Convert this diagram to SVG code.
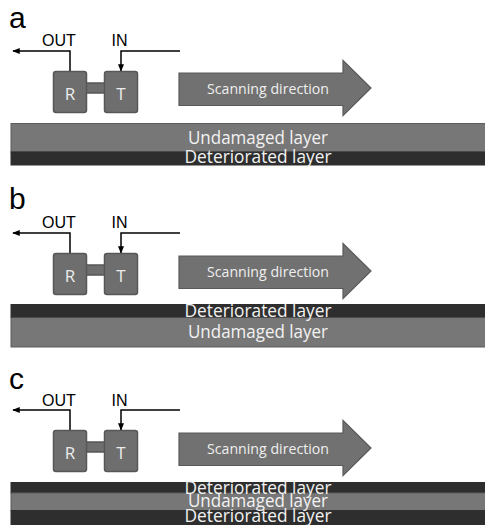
<svg xmlns="http://www.w3.org/2000/svg" width="485" height="525" viewBox="0 0 485 525">
<defs>
<style>
.lbl{font-family:"Liberation Sans",Arial,sans-serif;fill:#000}
.pl{font-size:30px}
.io{font-size:16px}
.box{fill:#6e6e6e;stroke:#575757;stroke-width:1.5}
.bt{font-family:"Open Sans","Noto Sans",sans-serif;font-size:17px;fill:#ececec;text-anchor:middle}
.arr{fill:#717171;stroke:#5a5a5a;stroke-width:1.2}
.at{font-family:"Open Sans","Noto Sans",sans-serif;font-size:15px;fill:#efefef;text-anchor:middle}
.und{fill:#777;stroke:#5c5c5c;stroke-width:1}
.det{fill:#2e2e2e;stroke:#2e2e2e;stroke-width:1}
.lt{font-family:"Open Sans","Noto Sans",sans-serif;font-size:18px;fill:#f2f2f2;text-anchor:middle}
.wire{fill:none;stroke:#000;stroke-width:1.5}
</style>
<marker id="ah" viewBox="0 0 10 10" refX="9" refY="5" markerWidth="5" markerHeight="5" orient="auto" markerUnits="strokeWidth">
<path d="M0,1 L10,5 L0,9 z" fill="#000"/>
</marker>
<g id="probe">
<rect class="box" x="86" y="83" width="19" height="10"/>
<rect class="box" x="53.5" y="71.5" width="33" height="41" rx="2.5"/>
<rect class="box" x="104.5" y="71.5" width="33" height="41" rx="2.5"/>
<text class="bt" x="70" y="99.5">R</text>
<text class="bt" x="121" y="99.5">T</text>
</g>
<g id="scan">
<polygon class="arr" points="179,73 343,73 343,60.5 371,88 343,115.5 343,105.5 179,105.5"/>
<text class="at" x="268" y="94" textLength="122" lengthAdjust="spacingAndGlyphs">Scanning direction</text>
</g>
</defs>

<g id="connectors">
<path class="wire" d="M70,74 V51 H13" marker-end="url(#ah)"/>
<path class="wire" d="M180,51 H121 V71" marker-end="url(#ah)"/>
<path class="wire" d="M70,256 V233 H13" marker-end="url(#ah)"/>
<path class="wire" d="M180,233 H121 V253" marker-end="url(#ah)"/>
<path class="wire" d="M70,433 V410 H13" marker-end="url(#ah)"/>
<path class="wire" d="M180,410 H121 V430" marker-end="url(#ah)"/>
</g>

<g id="panel-a">
<text class="lbl pl" x="9" y="28">a</text>
<text class="lbl io" x="42" y="46">OUT</text>
<text class="lbl io" x="111.5" y="46">IN</text>
<g id="probe-a"><use href="#probe"/></g>
<g id="scan-a"><use href="#scan"/></g>
<g id="layers-a">
<rect class="und" x="11" y="123.5" width="480" height="28.5"/>
<rect class="det" x="11" y="152" width="480" height="13"/>
<text class="lt" x="258" y="143.5" textLength="140" lengthAdjust="spacingAndGlyphs">Undamaged layer</text>
<text class="lt" x="258" y="163.3" textLength="147" lengthAdjust="spacingAndGlyphs">Deteriorated layer</text>
</g>
</g>

<g id="panel-b">
<text class="lbl pl" x="9" y="209">b</text>
<text class="lbl io" x="42" y="228">OUT</text>
<text class="lbl io" x="111.5" y="228">IN</text>
<g id="probe-b" transform="translate(0,182)"><use href="#probe"/></g>
<g id="scan-b" transform="translate(0,183)"><use href="#scan"/></g>
<g id="layers-b">
<rect class="und" x="11" y="317" width="480" height="30"/>
<rect class="det" x="11" y="304.5" width="480" height="12.5"/>
<text class="lt" x="258" y="317.3" textLength="147" lengthAdjust="spacingAndGlyphs">Deteriorated layer</text>
<text class="lt" x="258" y="338.3" textLength="140" lengthAdjust="spacingAndGlyphs">Undamaged layer</text>
</g>
</g>

<g id="panel-c">
<text class="lbl pl" x="9" y="389">c</text>
<text class="lbl io" x="42" y="405.5">OUT</text>
<text class="lbl io" x="111.5" y="405.5">IN</text>
<g id="probe-c" transform="translate(0,359)"><use href="#probe"/></g>
<g id="scan-c" transform="translate(0,360)"><use href="#scan"/></g>
<g id="layers-c">
<rect class="det" x="11" y="482.5" width="480" height="10.5"/>
<rect class="und" x="11" y="493" width="480" height="17.5"/>
<rect class="det" x="11" y="510.5" width="480" height="16"/>
<text class="lt" x="258" y="494" textLength="147" lengthAdjust="spacingAndGlyphs">Deteriorated layer</text>
<text class="lt" x="258" y="506.7" textLength="140" lengthAdjust="spacingAndGlyphs">Undamaged layer</text>
<text class="lt" x="258" y="522.3" textLength="147" lengthAdjust="spacingAndGlyphs">Deteriorated layer</text>
</g>
</g>
</svg>
